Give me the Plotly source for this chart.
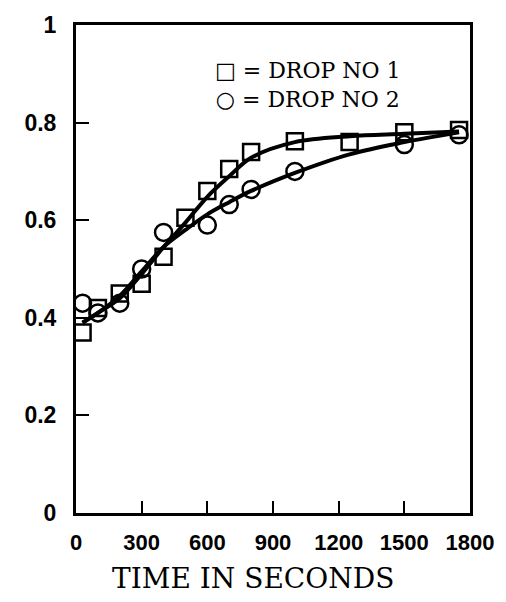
import plotly.graph_objects as go

# Data
drop1_t = [30, 100, 200, 300, 400, 500, 600, 700, 800, 1000, 1250, 1500, 1750]
drop1_v = [0.37, 0.42, 0.45, 0.47, 0.525, 0.605, 0.66, 0.705, 0.74, 0.762, 0.76, 0.78, 0.785]
drop2_t = [30, 100, 200, 300, 400, 600, 700, 800, 1000, 1500, 1750]
drop2_v = [0.43, 0.41, 0.43, 0.50, 0.575, 0.59, 0.632, 0.663, 0.70, 0.755, 0.775]

fit_t = [30, 100, 200, 300, 400, 500, 600, 700, 800, 1000, 1250, 1500, 1750]
fit1_v = [0.39, 0.41, 0.44, 0.49, 0.545, 0.595, 0.648, 0.69, 0.728, 0.76, 0.772, 0.777, 0.782]
fit2_v = [0.39, 0.41, 0.445, 0.495, 0.545, 0.58, 0.612, 0.637, 0.66, 0.697, 0.735, 0.76, 0.78]

x_ticks = [0, 300, 600, 900, 1200, 1500, 1800]
y_ticks = [0, 0.2, 0.4, 0.6, 0.8, 1]
x_title = "TIME IN SECONDS"
legend_lines = ["\u25a1 = DROP NO 1", "\u25cb = DROP NO 2"]

fig = go.Figure()
fig.add_trace(go.Scatter(x=fit_t, y=fit1_v, mode="lines", line=dict(color="black", width=4, shape="spline"),
                         showlegend=False, hoverinfo="skip"))
fig.add_trace(go.Scatter(x=fit_t, y=fit2_v, mode="lines", line=dict(color="black", width=4, shape="spline"),
                         showlegend=False, hoverinfo="skip"))
fig.add_trace(go.Scatter(x=drop1_t, y=drop1_v, mode="markers", name="DROP NO 1",
                         marker=dict(symbol="square-open", size=16, color="black", line=dict(width=2.5)),
                         showlegend=False))
fig.add_trace(go.Scatter(x=drop2_t, y=drop2_v, mode="markers", name="DROP NO 2",
                         marker=dict(symbol="circle-open", size=17, color="black", line=dict(width=2.5)),
                         showlegend=False))

fig.add_annotation(x=0.59, y=0.877, xref="paper", yref="paper", text="<br>".join(legend_lines),
                   showarrow=False, align="center", yanchor="middle", borderpad=0,
                   font=dict(family="DejaVu Serif", size=22, color="black"), xanchor="center")
fig.add_annotation(x=0.45, y=-0.135, xref="paper", yref="paper", text=x_title, showarrow=False,
                   font=dict(family="DejaVu Serif", size=28, color="black"), xanchor="center", yanchor="middle",
                   borderpad=0)

fig.update_layout(
    width=506, height=602,
    margin=dict(l=76, r=35, t=21, b=89),
    paper_bgcolor="white", plot_bgcolor="white",
    xaxis=dict(range=[0, 1800], tickvals=x_ticks, ticktext=[str(v) for v in x_ticks],
               showgrid=False, zeroline=False, showline=True, linecolor="black", linewidth=3, mirror=True,
               ticks="inside", ticklen=12, tickwidth=2, tickcolor="black", ticklabelstandoff=8,
               tickfont=dict(family="Liberation Sans", size=22, color="black", weight="bold")),
    yaxis=dict(range=[0, 1], tickvals=y_ticks, ticktext=["0", "0.2", "0.4", "0.6", "0.8", "1"],
               showgrid=False, zeroline=False, showline=True, linecolor="black", linewidth=3, mirror=True,
               ticks="inside", ticklen=13, tickwidth=2, tickcolor="black", ticklabelstandoff=12,
               tickfont=dict(family="Liberation Sans", size=23, color="black", weight="bold")),
)

fig.write_html("out.html")
